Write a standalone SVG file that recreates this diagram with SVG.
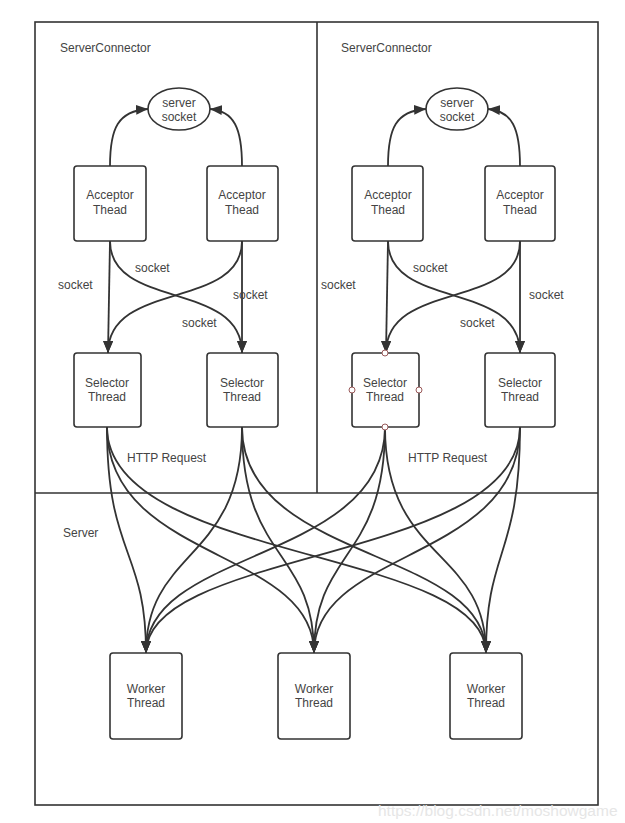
<svg xmlns="http://www.w3.org/2000/svg" width="625" height="823" viewBox="0 0 625 823">
<defs>
<marker id="ah" markerWidth="13" markerHeight="10" refX="12" refY="5" orient="auto" markerUnits="userSpaceOnUse">
<path d="M0,0 L12,5 L0,10 Z" fill="#333"/>
</marker>
<style>
.frame{fill:none;stroke:#333;stroke-width:1.6}
.box{fill:#fff;stroke:#333;stroke-width:1.6}
.arr{fill:none;stroke:#333;stroke-width:1.8;marker-end:url(#ah)}
.t{font-family:"Liberation Sans",Arial,sans-serif;font-size:12px;fill:#444}
.c{text-anchor:middle}
.h{fill:#fff;stroke:#9a5a5a;stroke-width:1}
.wm{font-family:"Liberation Sans",Arial,sans-serif;font-size:15.5px;fill:#e6e6e6}
</style>
</defs>
<rect width="625" height="823" fill="#fff"/>
<g id="frames">
<rect class="frame" x="35" y="22" width="563" height="783"/>
<line class="frame" x1="35" y1="493" x2="598" y2="493"/>
<line class="frame" x1="317" y1="22" x2="317" y2="493"/>
<text class="t" x="60" y="52">ServerConnector</text>
<text class="t" x="341" y="52">ServerConnector</text>
<text class="t" x="63" y="537">Server</text>
</g>
<g id="connectors">
<path class="arr" d="M110,166 C110,128 118,111 148,109"/>
<path class="arr" d="M242,166 C242,128 234,111 210,109"/>
<path class="arr" d="M388,166 C388,128 396,111 426,109"/>
<path class="arr" d="M520,166 C520,128 512,111 488,109"/>
<path class="arr" d="M110,241 L108,353"/>
<path class="arr" d="M110,241 C110,310 242,280 242,353"/>
<path class="arr" d="M242,241 L242,353"/>
<path class="arr" d="M242,241 C242,310 108,280 108,353"/>
<path class="arr" d="M388,241 L386,353"/>
<path class="arr" d="M388,241 C388,310 520,280 520,353"/>
<path class="arr" d="M520,241 L520,353"/>
<path class="arr" d="M520,241 C520,310 386,280 386,353"/>
<path class="arr" d="M107,427 C107,557 146,548 146,653"/>
<path class="arr" d="M107,427 C107,562 314,548 314,653"/>
<path class="arr" d="M107,427 C107,562 486,548 486,653"/>
<path class="arr" d="M242,427 C242,562 146,548 146,653"/>
<path class="arr" d="M242,427 C242,562 314,548 314,653"/>
<path class="arr" d="M242,427 C242,562 486,548 486,653"/>
<path class="arr" d="M385,427 C385,562 146,548 146,653"/>
<path class="arr" d="M385,427 C385,562 314,548 314,653"/>
<path class="arr" d="M385,427 C385,562 486,548 486,653"/>
<path class="arr" d="M520,427 C520,562 146,548 146,653"/>
<path class="arr" d="M520,427 C520,562 314,548 314,653"/>
<path class="arr" d="M520,427 C520,557 486,548 486,653"/>
<text class="t" x="58" y="289">socket</text>
<text class="t" x="135" y="272">socket</text>
<text class="t" x="233" y="299">socket</text>
<text class="t" x="182" y="327">socket</text>
<text class="t" x="321" y="289">socket</text>
<text class="t" x="413" y="272">socket</text>
<text class="t" x="529" y="299">socket</text>
<text class="t" x="460" y="327">socket</text>
<text class="t" x="127" y="462">HTTP Request</text>
<text class="t" x="408" y="462">HTTP Request</text>
</g>
<g id="serversocket-left">
<ellipse class="box" cx="179" cy="109" rx="31" ry="21"/>
<text class="t c" x="179" y="107">server</text>
<text class="t c" x="179" y="121">socket</text>
</g>
<g id="serversocket-right">
<ellipse class="box" cx="457" cy="109" rx="31" ry="21"/>
<text class="t c" x="457" y="107">server</text>
<text class="t c" x="457" y="121">socket</text>
</g>
<g id="acceptor-1">
<rect class="box" x="74" y="166" width="72" height="75" rx="3"/>
<text class="t c" x="110" y="199">Acceptor</text>
<text class="t c" x="110" y="214">Thead</text>
</g>
<g id="acceptor-2">
<rect class="box" x="207" y="166" width="71" height="75" rx="3"/>
<text class="t c" x="242" y="199">Acceptor</text>
<text class="t c" x="242" y="214">Thead</text>
</g>
<g id="acceptor-3">
<rect class="box" x="352" y="166" width="71" height="75" rx="3"/>
<text class="t c" x="388" y="199">Acceptor</text>
<text class="t c" x="388" y="214">Thead</text>
</g>
<g id="acceptor-4">
<rect class="box" x="485" y="166" width="70" height="75" rx="3"/>
<text class="t c" x="520" y="199">Acceptor</text>
<text class="t c" x="520" y="214">Thead</text>
</g>
<g id="selector-1">
<rect class="box" x="74" y="353" width="67" height="74" rx="3"/>
<text class="t c" x="107" y="387">Selector</text>
<text class="t c" x="107" y="401">Thread</text>
</g>
<g id="selector-2">
<rect class="box" x="207" y="353" width="71" height="74" rx="3"/>
<text class="t c" x="242" y="387">Selector</text>
<text class="t c" x="242" y="401">Thread</text>
</g>
<g id="selector-3">
<rect class="box" x="352" y="353" width="67" height="74" rx="3"/>
<text class="t c" x="385" y="387">Selector</text>
<text class="t c" x="385" y="401">Thread</text>
<circle class="h" cx="385" cy="353" r="3"/>
<circle class="h" cx="352" cy="390" r="3"/>
<circle class="h" cx="419" cy="390" r="3"/>
<circle class="h" cx="385" cy="427" r="3"/>
</g>
<g id="selector-4">
<rect class="box" x="485" y="353" width="70" height="74" rx="3"/>
<text class="t c" x="520" y="387">Selector</text>
<text class="t c" x="520" y="401">Thread</text>
</g>
<g id="worker-1">
<rect class="box" x="110" y="653" width="72" height="86" rx="3"/>
<text class="t c" x="146" y="693">Worker</text>
<text class="t c" x="146" y="707">Thread</text>
</g>
<g id="worker-2">
<rect class="box" x="278" y="653" width="72" height="86" rx="3"/>
<text class="t c" x="314" y="693">Worker</text>
<text class="t c" x="314" y="707">Thread</text>
</g>
<g id="worker-3">
<rect class="box" x="450" y="653" width="72" height="86" rx="3"/>
<text class="t c" x="486" y="693">Worker</text>
<text class="t c" x="486" y="707">Thread</text>
</g>
<text class="wm" x="378" y="816">https://blog.csdn.net/moshowgame</text>
</svg>
